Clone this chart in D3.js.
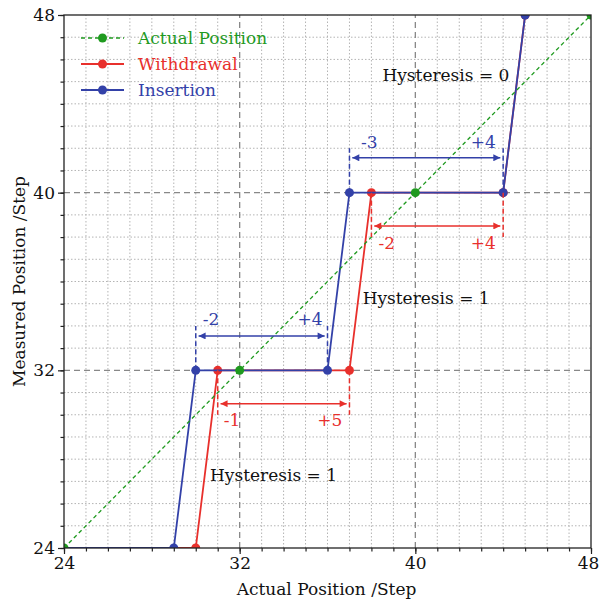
<!DOCTYPE html>
<html>
<head>
<meta charset="utf-8">
<script src="https://cdn.jsdelivr.net/npm/d3@7"></script>
<style>
  html, body { margin: 0; padding: 0; background: #fff; }
  svg { display: block; }
  text { font-family: "DejaVu Serif", serif; }
</style>
</head>
<body>
<svg id="chart" width="599" height="600"></svg>
<script>
// Step positions of the rod: actual vs measured
const actualX = [24, 32, 40, 48];
const actualY = [24, 32, 40, 48];

const withdrawalX = [24, 30, 31, 37, 38, 44, 45];
const withdrawalY = [24, 24, 32, 32, 40, 40, 48];

const insertionX = [24, 29, 30, 36, 37, 44, 45];
const insertionY = [24, 24, 32, 32, 40, 40, 48];
// markers are not drawn on the first (origin) point of each series
const markerStart = 1;

const majorTicks = [24, 32, 40, 48];
const minorTicks = d3.range(24, 49, 1);

// Offset brackets around each plateau
const brackets = [
  { x0: 30, x1: 36, base: 32, arrowY: 33.55, tipY: 34.0, left: "-2", right: "+4", labelY: 34.3, lx: 30.7, rx: 35.2, s: "ins" },
  { x0: 31, x1: 37, base: 32, arrowY: 30.5, tipY: 30.0, left: "-1", right: "+5", labelY: 29.75, lx: 31.65, rx: 36.1, s: "wd" },
  { x0: 37, x1: 44, base: 40, arrowY: 41.57, tipY: 42.0, left: "-3", right: "+4", labelY: 42.3, lx: 37.9, rx: 43.1, s: "ins" },
  { x0: 38, x1: 44, base: 40, arrowY: 38.5, tipY: 38.0, left: "-2", right: "+4", labelY: 37.75, lx: 38.7, rx: 43.1, s: "wd" }
];

const hysteresisNotes = [
  { text: "Hysteresis = 0", x: 38.5, y: 45.3 },
  { text: "Hysteresis = 1", x: 37.6, y: 35.25 },
  { text: "Hysteresis = 1", x: 30.65, y: 27.3 }
];

const colors = { act: "#1f9a1f", wd: "#e8302c", ins: "#3341a8" };
const FS = 17;

const svg = d3.select("#chart");
const margin = { left: 64, right: 8, top: 15, bottom: 52 };
const W = 599, H = 600;
const x = d3.scaleLinear().domain([24, 48]).range([margin.left, W - margin.right]);
const y = d3.scaleLinear().domain([24, 48]).range([H - margin.bottom, margin.top]);

const defs = svg.append("defs");
defs.append("clipPath").attr("id", "plotClip")
  .append("rect")
  .attr("x", x(24)).attr("y", y(48))
  .attr("width", x(48) - x(24)).attr("height", y(24) - y(48));

["wd", "ins"].forEach(k => {
  defs.append("marker")
    .attr("id", "arrow-" + k)
    .attr("viewBox", "0 0 10 10")
    .attr("refX", 10).attr("refY", 5)
    .attr("markerWidth", 15).attr("markerHeight", 7)
    .attr("markerUnits", "userSpaceOnUse")
    .attr("orient", "auto-start-reverse")
    .append("path")
    .attr("d", "M0,0 L10,5 L0,10 Z")
    .attr("fill", colors[k]);
});

// Grid: minor dotted every step, major dashed every 8
const grid = svg.append("g");
minorTicks.filter(t => !majorTicks.includes(t)).forEach(t => {
  grid.append("line").attr("x1", x(t)).attr("x2", x(t)).attr("y1", y(24)).attr("y2", y(48))
    .attr("stroke", "#b4b4b4").attr("stroke-width", 1).attr("stroke-dasharray", "1.5,2");
  grid.append("line").attr("y1", y(t)).attr("y2", y(t)).attr("x1", x(24)).attr("x2", x(48))
    .attr("stroke", "#b4b4b4").attr("stroke-width", 1).attr("stroke-dasharray", "1.5,2");
});
[32, 40].forEach(t => {
  grid.append("line").attr("x1", x(t)).attr("x2", x(t)).attr("y1", y(24)).attr("y2", y(48))
    .attr("stroke", "#888").attr("stroke-width", 1.3).attr("stroke-dasharray", "6,4");
  grid.append("line").attr("y1", y(t)).attr("y2", y(t)).attr("x1", x(24)).attr("x2", x(48))
    .attr("stroke", "#888").attr("stroke-width", 1.3).attr("stroke-dasharray", "6,4");
});

// Axes
const xAxis = d3.axisBottom(x).tickValues(majorTicks).tickSize(6).tickPadding(3).tickFormat(d3.format("d"));
const yAxis = d3.axisLeft(y).tickValues(majorTicks).tickSize(6).tickPadding(3).tickFormat(d3.format("d"));
const xMinor = d3.axisBottom(x).tickValues(minorTicks).tickSize(3.5).tickFormat("");
const yMinor = d3.axisLeft(y).tickValues(minorTicks).tickSize(3.5).tickFormat("");

function styleAxis(g) {
  g.select(".domain").remove();
  g.selectAll("line").attr("stroke", "#222").attr("stroke-width", 1.2);
  g.selectAll("text").attr("font-family", "DejaVu Serif").attr("font-size", FS).attr("fill", "#111");
}
svg.append("g").attr("transform", `translate(0,${y(24)})`).call(xMinor).call(styleAxis);
svg.append("g").attr("transform", `translate(${x(24)},0)`).call(yMinor).call(styleAxis);
const gx = svg.append("g").attr("transform", `translate(0,${y(24)})`).call(xAxis).call(styleAxis);
svg.append("g").attr("transform", `translate(${x(24)},0)`).call(yAxis).call(styleAxis);
// keep the last x tick label inside the page
gx.selectAll(".tick").filter(d => d === 48).select("text").attr("dx", -3);

// Series
const plot = svg.append("g").attr("clip-path", "url(#plotClip)");
const line = d3.line().x(d => x(d[0])).y(d => y(d[1]));

function drawSeries(xs, ys, color, dashed, first) {
  const pts = xs.map((v, i) => [v, ys[i]]);
  plot.append("path").datum(pts).attr("d", line)
    .attr("fill", "none").attr("stroke", color)
    .attr("stroke-width", dashed ? 1.3 : 1.8)
    .attr("stroke-dasharray", dashed ? "4,3" : null);
  plot.selectAll(null).data(pts.slice(first)).enter().append("circle")
    .attr("cx", d => x(d[0])).attr("cy", d => y(d[1])).attr("r", 4.5)
    .attr("fill", color);
}

// Brackets and arrows
const ann = svg.append("g");
brackets.forEach(b => {
  const c = colors[b.s];
  [b.x0, b.x1].forEach(xv => {
    ann.append("line").attr("x1", x(xv)).attr("x2", x(xv)).attr("y1", y(b.base)).attr("y2", y(b.tipY))
      .attr("stroke", c).attr("stroke-width", 1.5).attr("stroke-dasharray", "5,3");
  });
  const pad = 0.13;
  ann.append("line")
    .attr("x1", x(b.x0 + pad)).attr("x2", x(b.x1 - pad))
    .attr("y1", y(b.arrowY)).attr("y2", y(b.arrowY))
    .attr("stroke", c).attr("stroke-width", 1.5)
    .attr("marker-start", `url(#arrow-${b.s})`)
    .attr("marker-end", `url(#arrow-${b.s})`);
  ann.append("text").attr("x", x(b.lx)).attr("y", y(b.labelY)).attr("dy", "0.35em")
    .attr("text-anchor", "middle").attr("font-size", FS).attr("fill", c).text(b.left);
  ann.append("text").attr("x", x(b.rx)).attr("y", y(b.labelY)).attr("dy", "0.35em")
    .attr("text-anchor", "middle").attr("font-size", FS).attr("fill", c).text(b.right);
});

drawSeries(withdrawalX, withdrawalY, colors.wd, false, markerStart);
drawSeries(insertionX, insertionY, colors.ins, false, markerStart);
drawSeries(actualX, actualY, colors.act, true, 0);

hysteresisNotes.forEach(h => {
  svg.append("text").attr("x", x(h.x)).attr("y", y(h.y)).attr("dy", "0.35em")
    .attr("font-size", FS).attr("fill", "#111").text(h.text);
});

// Frame
svg.append("rect").attr("x", x(24)).attr("y", y(48))
  .attr("width", x(48) - x(24)).attr("height", y(24) - y(48))
  .attr("fill", "none").attr("stroke", "#222").attr("stroke-width", 1.3);

// Axis titles
svg.append("text").attr("x", (x(24) + x(48)) / 2 - 1).attr("y", 595)
  .attr("text-anchor", "middle").attr("font-size", FS).attr("fill", "#111")
  .text("Actual Position /Step");
svg.append("text").attr("transform", `translate(25,${(y(24) + y(48)) / 2}) rotate(-90)`)
  .attr("text-anchor", "middle").attr("font-size", FS).attr("fill", "#111")
  .text("Measured Position /Step");

// Legend
const legendItems = [
  { label: "Actual Position", color: colors.act, dashed: true },
  { label: "Withdrawal", color: colors.wd, dashed: false },
  { label: "Insertion", color: colors.ins, dashed: false }
];
const lg = svg.append("g").attr("transform", "translate(81,38)");
legendItems.forEach((it, i) => {
  const gy = i * 26;
  lg.append("line").attr("x1", 0).attr("x2", 43).attr("y1", gy).attr("y2", gy)
    .attr("stroke", it.color).attr("stroke-width", it.dashed ? 1.3 : 1.8)
    .attr("stroke-dasharray", it.dashed ? "4,3" : null);
  lg.append("circle").attr("cx", 21.5).attr("cy", gy).attr("r", 4.5).attr("fill", it.color);
  lg.append("text").attr("x", 57).attr("y", gy).attr("dy", "0.35em")
    .attr("font-size", FS).attr("fill", it.color).text(it.label);
});
</script>
</body>
</html>
